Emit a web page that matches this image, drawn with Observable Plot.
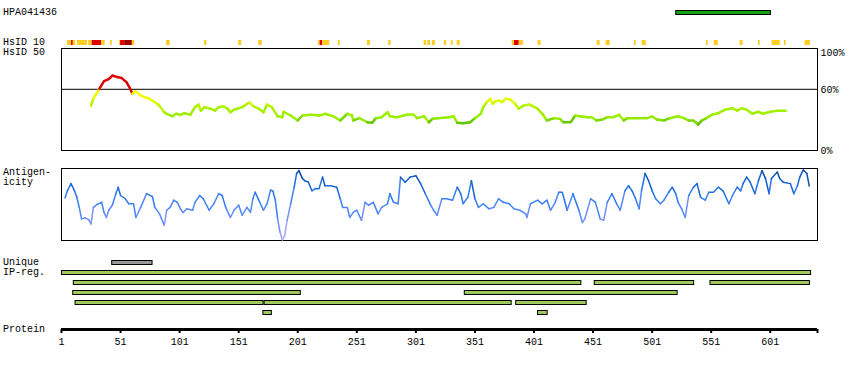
<!DOCTYPE html>
<html><head><meta charset="utf-8">
<script src="https://cdn.jsdelivr.net/npm/d3@7"></script>
<script src="https://cdn.jsdelivr.net/npm/@observablehq/plot@0.6"></script>
<style>
body{margin:0;background:#fff;}
#root{position:relative;width:850px;height:370px;overflow:hidden;font-family:"Liberation Mono",monospace;font-size:10px;color:#000;}
.lbl{position:absolute;left:3px;line-height:10px;white-space:nowrap;}
#root svg{position:absolute;left:0;}
</style></head><body><div id="root"></div>
<script>
// ---------- data ----------
const antibodyName = "HPA041436";
const proteinLength = 641;
const prestRange = [521, 602];

const hs10Start = [6,9.5,11,14.5,24,27,35,42.5,50,51,54.5,61,90,122,151,168,218.5,220,222,235.5,260,278,308,311,315,325,331,336,382.5,384.5,388.5,404.5,454.5,462,486,492.5,547,553.5,575.5,591,602.5,613,630.5];
const hs10End   = [9.5,11,13,23,27,35,38,44,51,54.5,61,63,93,124,153.5,171,220,222,228,237,262.5,280,310,313.5,317.5,327,332.5,338.5,384.5,388.5,392,407,457,465.5,487.5,496,548.5,557,578,592.5,609.5,614.5,635];
const hs10Level = [1,2,1,1,1,2,1,1,1,2,3,1,1,1,1,1,1,2,1,1,1,1,1,1,1,1,1,1,1,2,1,1,1,1,1,1,1,1,1,1,1,1,1];

const hsidRes = [26,28,33,37,41,44,48,52,56,59,61,63,65,68,72,75,79,83,88,90,95,98,102,105,110,114,117,119,122,127,131,134,138,141,144,147,150,154,160,164,168,172,175,179,184,188,189,195,201,205,212,219,222,224,231,237,243,247,248,253,260,264,267,272,277,279,285,294,299,302,308,312,315,320,329,333,336,341,347,351,356,358,361,364,366,368,371,374,377,381,385,388,392,397,399,404,408,412,418,423,426,432,436,440,446,450,454,459,463,468,473,477,480,488,497,501,505,511,516,523,528,532,536,540,543,547,552,557,563,569,573,577,581,586,591,595,601,607,614];
const hsidPct = [44,51,60.5,68,70,73.5,72,71,67,61,55.6,58,57,54,52,51,48,45,37.5,36,33.6,36,35,36.6,35,42.5,45,39,42.5,41,39,42.5,43.4,41.5,37.5,40,41,42.5,47,43,41,37.5,45,42.5,33.6,32.6,38,34.3,29.4,34.3,35,34.3,35,36,33.6,29.4,36,34.3,29.4,31.7,27.7,27.2,31.7,32.6,37.5,33.6,32.6,35.3,35.3,31.7,33.6,27.7,31.1,31.7,32.6,33.6,27.2,26.8,27.7,31.7,36,42.5,47.4,50.7,45.8,48,49,47.4,50.7,50,45.8,41,44,45,44,41,36,29.4,31.7,31,27.7,27.7,34.3,33.6,32.6,32.6,29.4,30.4,32.6,32.6,35,29.4,31.7,31.7,31.7,33.3,30.4,29.4,31.7,33.6,31.7,29.4,29.4,25.5,29.4,31.7,35.3,36.6,40,41.5,39,41.5,40,36,38,36,38,39,39];
const pctTicks = [100, 60, 0];
const pctLabels = ["100%", "60%", "0%"];

const antRes = [4,6,9,10,12,14,16,18,21,24,26,28,31,34,35,37,39,41,44,47,49,51,55,58,62,64,68,73,78,80,84,88,90,93,96,99,102,104,107,112,114,118,121,126,130,134,137,140,144,147,151,154,158,161,163,165,168,172,175,178,180,182,184,186,188,190,192,195,198,200,202,205,207,210,213,216,219,222,224,229,234,237,239,243,245,248,251,255,258,261,265,269,272,277,279,282,286,288,292,296,301,305,309,313,316,319,323,327,332,336,339,341,345,348,351,354,358,363,367,371,375,380,384,389,394,395,398,404,408,412,415,419,422,425,429,434,439,442,444,449,453,457,460,463,467,471,474,478,481,484,487,490,492,495,498,501,504,508,511,515,518,521,523,526,529,532,536,539,542,546,549,553,557,561,566,569,573,576,578,581,584,588,591,594,597,600,602,607,609,612,618,621,624,626,629,632,634];
const antVal = [59,69,79,76,69,60,46,30,31.5,29,23,46,50,52,53,39,32,42,49,65,74,62.5,58,51,51,32,46,65,61,46,37,21,42,46,56,53,43,39,44,42,53,62.5,58,42,51,65,62.5,46,32,42,49,35,46,39,58,67,56,42,51,70,68.5,56,30,11.5,1,7,28,51,74,93,97,86,83,81,69,72,72,88,76,76,74,58,46,46,32,39,42,28,53,49,53,37,46,51,65,53,51,88,81,88,90,79,65,51,42,35,58,58,56,74,65,51,60,83,58,46,51,44,46,58,53,51,44,42,37,32,51,56,51,56,42,53,67,67,42,65,42,25,30,58,53,30,28,53,65,51,42,69,76,69,58,44,69,93,83,69,58,51,56,67,74,65,53,44,32,62.5,74,79,60,56,67,67,74,69,51,62.5,74,69,79,88,81,65,83,97,86,65,86,95,86,81,79,65,76,88,98,93,76];

const rowKeys = ["U","r0","r1","r2","r3","r4"];
const regStart = [43.5, 1, 11, 452, 550, 10.5, 342, 12.5, 172.5, 385.5, 171.5, 404];
const regEnd   = [78.5, 636, 441.5, 537, 635, 204, 523, 172.5, 382.5, 446, 179.5, 413];
const regRow   = ["U","r0","r1","r1","r1","r2","r2","r3","r3","r3","r4","r4"];
const regKind  = ["unique","ip","ip","ip","ip","ip","ip","ip","ip","ip","ip","ip"];

const axisTicks = [1,51,101,151,201,251,301,351,401,451,501,551,601];

const leftLabels = ["HPA041436","HsID 10","HsID 50","Antigen-","icity","Unique","IP-reg.","Protein"];
const leftTops   = [8, 37.5, 48, 168, 177.5, 257.5, 267.5, 325];

// ---------- layout ----------
const root = document.getElementById("root");
const base = {
  width: 850, marginLeft: 61, marginRight: 33,
  style: {background: "transparent", overflow: "visible", fontFamily: "'Liberation Mono', monospace", fontSize: "10px", color: "#000"}
};
const xs = {domain: [1, proteinLength], axis: null};
function place(svg, top) { svg.style.top = top + "px"; root.append(svg); }

leftLabels.forEach((t, i) => {
  const d = document.createElement("div");
  d.className = "lbl"; d.textContent = t; d.style.top = leftTops[i] + "px";
  root.append(d);
});

// PrEST bar
place(Plot.plot({...base, height: 5, marginTop: 0, marginBottom: 0, x: xs,
  marks: [Plot.barX([prestRange], {x1: d => d[0], x2: d => d[1], fill: "#13a013", stroke: "#000", strokeWidth: 1, insetTop: 0.5, insetBottom: 0.5, insetLeft: 0.5, insetRight: 0.5})]
}), 10);

// HsID 10 strip
const hs10 = hs10Start.map((s, i) => ({s, e: hs10End[i], level: hs10Level[i]}));
place(Plot.plot({...base, height: 5, marginTop: 0, marginBottom: 0, x: xs,
  color: {type: "ordinal", domain: [1, 2, 3], range: ["#ffcc22", "#e00000", "#a00000"]},
  marks: [Plot.barX(hs10, {x1: "s", x2: "e", fill: "level"})]
}), 40);

// HsID 50 panel
const hsid = hsidRes.map((r, i) => ({r, v: hsidPct[i]}));
const pct = pctTicks.map((v, i) => ({v, label: pctLabels[i]}));
place(Plot.plot({...base, height: 115, marginTop: 8, marginBottom: 5, x: xs,
  y: {domain: [0, 100], axis: null},
  color: {type: "linear", domain: [25, 28, 32, 42, 50, 59.99, 60, 100],
          range: ["#5cb800", "#66cc00", "#99ee00", "#aaf000", "#e6ff00", "#ffff00", "#dd0000", "#dd0000"]},
  marks: [
    Plot.frame({stroke: "#000"}),
    Plot.ruleY([60], {stroke: "#000"}),
    Plot.line(hsid, {x: "r", y: "v", stroke: "v", z: null, strokeWidth: 2.5}),
    Plot.text(pct.slice(0, 1), {x: () => proteinLength, y: "v", text: "label", dx: 3, textAnchor: "start", lineAnchor: "top", fill: "#000"}),
    Plot.text(pct.slice(1), {x: () => proteinLength, y: "v", text: "label", dx: 3, textAnchor: "start", lineAnchor: "middle", fill: "#000"})
  ]
}), 40);

// Antigenicity panel
const ant = antRes.map((r, i) => ({r, v: antVal[i]}));
place(Plot.plot({...base, height: 85, marginTop: 8, marginBottom: 5, x: xs,
  y: {domain: [0, 100], axis: null},
  color: {type: "linear", domain: [0, 30, 55, 80, 100],
          range: ["#b4a9ff", "#6e8eff", "#3a82f6", "#1565d8", "#0b4596"]},
  marks: [
    Plot.frame({stroke: "#000"}),
    Plot.line(ant, {x: "r", y: "v", stroke: "v", z: null, strokeWidth: 1.5})
  ]
}), 160);

// Unique + IP-reg bars
const regs = regStart.map((s, i) => ({s, e: regEnd[i], row: regRow[i], kind: regKind[i]}));
place(Plot.plot({...base, height: 65, marginTop: 0, marginBottom: 0, x: xs,
  y: {type: "band", domain: rowKeys, range: [2.5, 62.5], paddingInner: 0.5, paddingOuter: 0.25, axis: null},
  color: {type: "ordinal", domain: ["unique", "ip"], range: ["#999999", "#9fc95c"]},
  marks: [Plot.barX(regs, {x1: "s", x2: "e", y: "row", fill: "kind", stroke: "#000", strokeWidth: 1, insetTop: 0.5, insetBottom: 0.5, insetLeft: 0.5, insetRight: 0.5})]
}), 255);

// Protein axis
place(Plot.plot({...base, height: 40, marginTop: 11, marginBottom: 28,
  x: {domain: [1, proteinLength]},
  y: {domain: [0, 1], axis: null},
  marks: [
    Plot.axisX([...axisTicks, proteinLength], {anchor: "bottom", tickSize: 4, tickPadding: 4, strokeWidth: 2, fill: "#000",
      tickFormat: d => d === proteinLength ? "" : String(d)}),
    Plot.ruleY([0], {strokeWidth: 3, stroke: "#000"})
  ]
}), 317);
</script></body></html>
